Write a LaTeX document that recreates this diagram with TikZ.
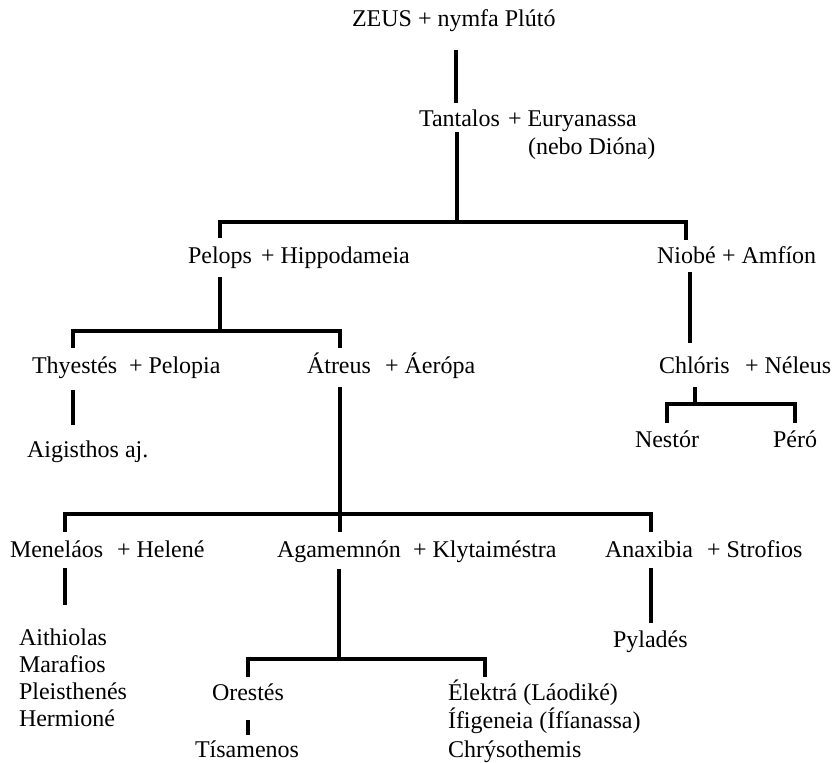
\documentclass[tikz,border=0pt]{standalone}
\usepackage{fontspec}
\setmainfont{Liberation Serif}
\begin{document}
\begin{tikzpicture}[x=1pt,y=-1pt,
  lbl/.style={inner sep=0pt, outer sep=0pt, anchor=base west, font=\fontsize{24}{28}\selectfont},
  conn/.style={line width=4pt, line cap=butt, line join=miter}]
\useasboundingbox[fill=white] (0,0) rectangle (834,762);

% ---- people ----
\node[lbl] (zeus) at (352,27) {ZEUS + nymfa Plútó};
\node[lbl] (tantalos) at (419,127) {Tantalos};
\node[lbl] (eury) at (508,127) {+ Euryanassa};
\node[lbl] (diona) at (528,155) {(nebo Dióna)};
\node[lbl] (pelops) at (188,263) {Pelops};
\node[lbl] (hippo) at (261,263) {+ Hippodameia};
\node[lbl] (niobe) at (657,263) {Niobé};
\node[lbl] (amfion) at (722,263) {+ Amfíon};
\node[lbl] (thyestes) at (32,373) {Thyestés};
\node[lbl] (pelopia) at (129,373) {+ Pelopia};
\node[lbl] (atreus) at (307,373) {Átreus};
\node[lbl] (aeropa) at (385,373) {+ Áerópa};
\node[lbl] (chloris) at (659,373) {Chlóris};
\node[lbl] (neleus) at (745,373) {+ Néleus};
\node[lbl] (nestor) at (635,447) {Nestór};
\node[lbl] (pero) at (773,447) {Péró};
\node[lbl] (aigisthos) at (27,457) {Aigisthos aj.};
\node[lbl] (menelaos) at (10,557) {Meneláos};
\node[lbl] (helene) at (117,557) {+ Helené};
\node[lbl] (agamemnon) at (277,557) {Agamemnón};
\node[lbl] (klyt) at (413,557) {+ Klytaiméstra};
\node[lbl] (anaxibia) at (605,557) {Anaxibia};
\node[lbl] (strofios) at (707,557) {+ Strofios};
\node[lbl, align=left, font=\fontsize{24}{26.7}\selectfont] (menkids) at (19,726) {Aithiolas\\Marafios\\Pleisthenés\\Hermioné};
\node[lbl] (pylades) at (613,647) {Pyladés};
\node[lbl] (orestes) at (212,700) {Orestés};
\node[lbl] (tisamenos) at (195,757) {Tísamenos};
\node[lbl, align=left, font=\fontsize{24}{28.5}\selectfont] (daughters) at (448,757) {Élektrá (Láodiké)\\Ífigeneia (Ífíanassa)\\Chrýsothemis};

% ---- connector points ----
\coordinate (zeusD) at (456,50);   \coordinate (tantU) at (456,103);
\coordinate (tantD) at (457,132);  \coordinate (tantB) at (457,222);
\coordinate (pelopsU) at (220,238); \coordinate (niobeU) at (686,240);
\coordinate (pelopsD) at (220,277); \coordinate (pelopsB) at (220,331);
\coordinate (thyU) at (73,348);    \coordinate (atrU) at (340,348);
\coordinate (niobeD) at (690,272); \coordinate (chlU) at (690,343);
\coordinate (chlD) at (695,387);   \coordinate (chlB) at (695,404);
\coordinate (nestorU) at (667,423); \coordinate (peroU) at (795,423);
\coordinate (thyD) at (73,390);    \coordinate (aigU) at (73,425);
\coordinate (atrD) at (340,387);   \coordinate (atrB) at (340,514);
\coordinate (menU) at (65,532);    \coordinate (agaU) at (340,532);
\coordinate (anaU) at (651,532);
\coordinate (menD) at (65,568);    \coordinate (menkU) at (65,605);
\coordinate (agaD) at (339,569);   \coordinate (agaB) at (339,659);
\coordinate (oreU) at (248,677);   \coordinate (eleU) at (485,677);
\coordinate (oreD) at (248,720);   \coordinate (tisU) at (248,735);
\coordinate (anaD) at (651,568);   \coordinate (pylU) at (651,623);

% ---- connectors ----
\draw[conn] (zeusD) -- (tantU);
\draw[conn] (tantD) -- (tantB);
\draw[conn] (pelopsU) |- (tantB) -| (niobeU);
\draw[conn] (pelopsD) -- (pelopsB);
\draw[conn] (thyU) |- (pelopsB) -| (atrU);
\draw[conn] (niobeD) -- (chlU);
\draw[conn] (chlD) -- (chlB);
\draw[conn] (nestorU) |- (chlB) -| (peroU);
\draw[conn] (thyD) -- (aigU);
\draw[conn] (atrD) -- (agaU);
\draw[conn] (menU) |- (atrB) -| (anaU);
\draw[conn] (menD) -- (menkU);
\draw[conn] (agaD) -- (agaB);
\draw[conn] (oreU) |- (agaB) -| (eleU);
\draw[conn] (oreD) -- (tisU);
\draw[conn] (anaD) -- (pylU);
\end{tikzpicture}
\end{document}
